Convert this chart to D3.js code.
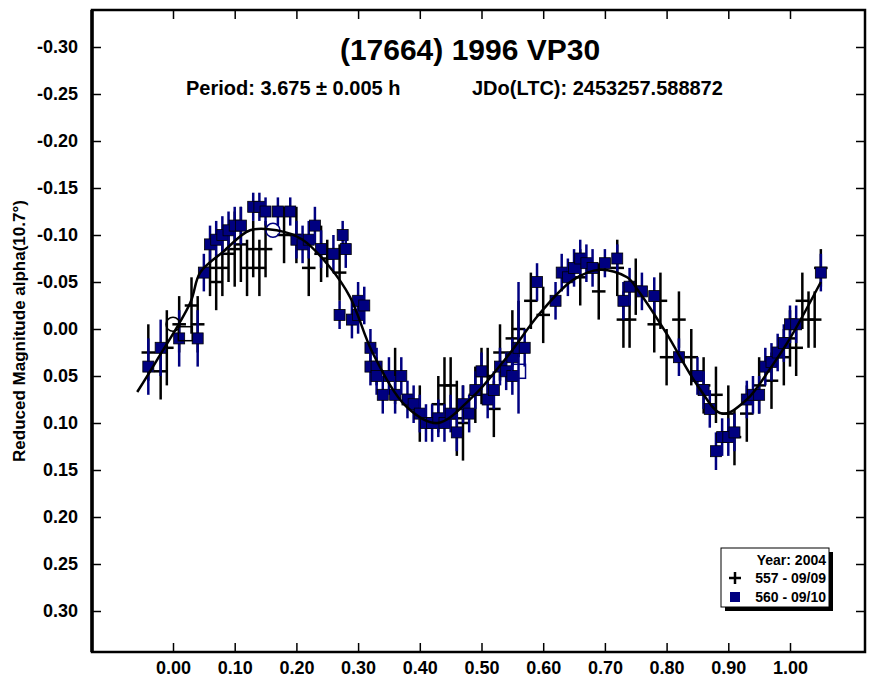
<!DOCTYPE html><html><head><meta charset="utf-8"><script src="https://cdn.jsdelivr.net/npm/d3@7"></script>
<style>body{margin:0;background:#fff}text{font-family:"Liberation Sans",Arial,sans-serif;font-weight:bold}</style></head><body>
<svg id="c" width="880" height="680"></svg>
<script>
const xTicks=[0,0.1,0.2,0.3,0.4,0.5,0.6,0.7,0.8,0.9,1.0];
const yTicks=[-0.30,-0.25,-0.20,-0.15,-0.10,-0.05,0,0.05,0.10,0.15,0.20,0.25,0.30];
const bluePhase=[-0.04,-0.02,0.01,0.04,0.05,0.06,0.07,0.08,0.09,0.10,0.11,0.13,0.14,0.15,0.17,0.19,0.20,0.21,0.22,0.23,0.24,0.26,0.27,0.275,0.28,0.29,0.30,0.30,0.31,0.32,0.32,0.33,0.33,0.34,0.35,0.36,0.37,0.38,0.39,0.40,0.41,0.42,0.43,0.44,0.45,0.46,0.47,0.48,0.49,0.50,0.51,0.52,0.53,0.54,0.55,0.55,0.56,0.57,0.59,0.62,0.63,0.64,0.65,0.66,0.67,0.68,0.70,0.72,0.73,0.74,0.76,0.78,0.82,0.85,0.86,0.87,0.88,0.89,0.90,0.91,0.93,0.94,0.95,0.96,0.97,0.98,0.99,1.00,1.01,1.05];
const blueMag=[0.04,0.02,0.01,0.01,-0.06,-0.09,-0.095,-0.10,-0.105,-0.11,-0.11,-0.13,-0.13,-0.125,-0.125,-0.125,-0.095,-0.09,-0.095,-0.11,-0.085,-0.08,-0.015,-0.10,-0.085,-0.01,-0.015,-0.03,-0.025,0.02,0.04,0.04,0.05,0.07,0.05,0.07,0.05,0.075,0.08,0.09,0.10,0.10,0.095,0.10,0.09,0.11,0.08,0.09,0.065,0.045,0.075,0.065,0.04,0.045,0.03,0.05,0.02,0.02,-0.05,-0.03,-0.06,-0.055,-0.065,-0.075,-0.07,-0.065,-0.07,-0.075,-0.03,-0.045,-0.04,-0.035,0.03,0.05,0.065,0.085,0.13,0.115,0.115,0.11,0.075,0.07,0.07,0.04,0.035,0.025,0.015,-0.005,-0.005,-0.06];
const blueErr=[0.03,0.03,0.03,0.03,0.02,0.02,0.02,0.02,0.02,0.02,0.02,0.015,0.015,0.015,0.015,0.015,0.02,0.02,0.02,0.02,0.02,0.02,0.015,0.015,0.02,0.02,0.02,0.02,0.02,0.02,0.02,0.02,0.02,0.02,0.02,0.02,0.02,0.02,0.02,0.02,0.02,0.02,0.02,0.02,0.02,0.02,0.02,0.02,0.02,0.02,0.02,0.02,0.02,0.02,0.02,0.02,0.07,0.02,0.02,0.02,0.02,0.02,0.02,0.02,0.02,0.02,0.015,0.015,0.02,0.02,0.02,0.02,0.02,0.02,0.02,0.02,0.02,0.02,0.02,0.02,0.02,0.02,0.02,0.02,0.02,0.02,0.02,0.02,0.02,0.02];
const blackPhase=[-0.04,-0.02,-0.01,0.01,0.03,0.04,0.06,0.07,0.08,0.09,0.10,0.11,0.12,0.13,0.14,0.15,0.18,0.20,0.22,0.24,0.25,0.27,0.36,0.40,0.43,0.44,0.45,0.46,0.47,0.49,0.50,0.51,0.52,0.53,0.55,0.56,0.58,0.60,0.66,0.69,0.72,0.73,0.74,0.75,0.78,0.79,0.80,0.82,0.84,0.86,0.88,0.90,0.91,0.93,0.95,0.97,0.99,1.00,1.01,1.02,1.03,1.04,1.05];
const blackMag=[0.025,0.045,0.02,-0.005,-0.025,-0.005,-0.065,-0.05,-0.065,-0.08,-0.085,-0.09,-0.065,-0.085,-0.065,-0.085,-0.10,-0.10,-0.065,-0.08,-0.075,-0.06,0.05,0.09,0.08,0.06,0.06,0.095,0.10,0.07,0.05,0.05,0.085,0.025,0.01,0.0,-0.03,-0.015,-0.055,-0.04,-0.065,-0.01,-0.01,-0.045,-0.005,-0.03,0.03,-0.01,0.03,0.06,0.07,0.09,0.115,0.09,0.06,0.055,0.03,0.01,0.02,-0.03,-0.01,-0.01,-0.065];
const blackErr=[0.03,0.03,0.04,0.03,0.03,0.03,0.03,0.03,0.03,0.03,0.04,0.04,0.03,0.03,0.03,0.03,0.03,0.03,0.03,0.03,0.02,0.03,0.03,0.03,0.03,0.03,0.03,0.04,0.04,0.03,0.03,0.03,0.03,0.03,0.03,0.03,0.03,0.03,0.03,0.03,0.03,0.03,0.03,0.03,0.03,0.03,0.03,0.03,0.03,0.03,0.03,0.03,0.03,0.03,0.03,0.03,0.03,0.03,0.03,0.03,0.03,0.03,0.02];
const curvePhase=[-0.058,-0.026,0.028,0.044,0.081,0.125,0.168,0.21,0.254,0.287,0.324,0.379,0.428,0.486,0.541,0.595,0.648,0.692,0.736,0.757,0.80,0.85,0.89,0.93,0.97,1.00,1.05];
const curveMag=[0.067,0.033,-0.028,-0.06,-0.082,-0.105,-0.105,-0.095,-0.066,-0.034,0.026,0.083,0.10,0.072,0.03,-0.017,-0.052,-0.063,-0.055,-0.038,0.005,0.06,0.09,0.075,0.04,0.01,-0.05];
const legendLabels=["Year: 2004","557 - 09/09","560 - 09/10"];

const svg=d3.select("#c");
const L=92,R=865,T=10,B=652;
const x=d3.scaleLinear().domain([0,1]).range([173,790]);
const y=d3.scaleLinear().domain([-0.30,0.30]).range([47,611]);
const blue="#000080";
const fmt=d=>d3.format(".2f")(d).replace("−","-");
const styleText=g=>g.selectAll("text").attr("font-size",18).attr("font-family","Liberation Sans, Arial").attr("font-weight","bold");
svg.append("g").attr("transform",`translate(0,${B})`).call(d3.axisBottom(x).tickValues(xTicks).tickSize(-9).tickFormat(fmt).tickPadding(9))
 .call(g=>{g.select(".domain").remove();g.selectAll("line").attr("stroke-width",1.5);styleText(g);});
svg.append("g").attr("transform",`translate(${L},0)`).call(d3.axisLeft(y).tickValues(yTicks).tickSize(-9).tickFormat(fmt).tickPadding(14))
 .call(g=>{g.select(".domain").remove();g.selectAll("line").attr("stroke-width",1.5);styleText(g);});
svg.append("g").attr("transform",`translate(${R},0)`).call(d3.axisRight(y).tickValues(yTicks).tickSize(-9).tickFormat(""))
 .call(g=>{g.select(".domain").remove();g.selectAll("line").attr("stroke-width",1.5);});
svg.append("g").attr("transform",`translate(0,${T})`).call(d3.axisTop(x).tickValues(xTicks).tickSize(-9).tickFormat(""))
 .call(g=>{g.select(".domain").remove();g.selectAll("line").attr("stroke-width",1.5);});
svg.append("rect").attr("x",L).attr("y",T).attr("width",R-L).attr("height",B-T).attr("fill","none").attr("stroke","#000").attr("stroke-width",2.5);
svg.append("line").attr("x1",L).attr("x2",L).attr("y1",T).attr("y2",B).attr("stroke","#000").attr("stroke-width",3.5);

const bk=svg.append("g").attr("stroke","#000").attr("stroke-width",2.5);
blackPhase.forEach((p,i)=>{
 bk.append("line").attr("x1",x(p)).attr("x2",x(p)).attr("y1",y(blackMag[i]-blackErr[i])).attr("y2",y(blackMag[i]+blackErr[i]));
 bk.append("line").attr("x1",x(p-0.011)).attr("x2",x(p+0.011)).attr("y1",y(blackMag[i])).attr("y2",y(blackMag[i]));
});
const bl=svg.append("g");
bluePhase.forEach((p,i)=>{
 bl.append("line").attr("x1",x(p)).attr("x2",x(p)).attr("y1",y(blueMag[i]-blueErr[i])).attr("y2",y(blueMag[i]+blueErr[i])).attr("stroke",blue).attr("stroke-width",2.5);
 bl.append("rect").attr("x",x(p)-5.5).attr("y",y(blueMag[i])-5.5).attr("width",11).attr("height",11).attr("fill",blue).attr("stroke","#000").attr("stroke-width",0.8);
});
svg.append("circle").attr("cx",x(0)).attr("cy",y(-0.005)).attr("r",7).attr("fill","none").attr("stroke","#000").attr("stroke-width",1.5);
svg.append("circle").attr("cx",x(0.162)).attr("cy",y(-0.105)).attr("r",7).attr("fill","none").attr("stroke",blue).attr("stroke-width",1.5);
svg.append("rect").attr("x",x(0.02)-7).attr("y",y(0.005)-7).attr("width",14).attr("height",14).attr("fill","none").attr("stroke","#000").attr("stroke-width",1.5);
svg.append("rect").attr("x",x(0.56)-7).attr("y",y(0.045)-7).attr("width",14).attr("height",14).attr("fill","none").attr("stroke",blue).attr("stroke-width",1.5);
svg.append("path").datum(curvePhase.map((p,i)=>[p,curveMag[i]])).attr("d",d3.line().x(d=>x(d[0])).y(d=>y(d[1])).curve(d3.curveCatmullRom)).attr("fill","none").attr("stroke","#000").attr("stroke-width",2.5);

svg.append("text").attr("x",470).attr("y",60).attr("text-anchor","middle").attr("font-size",30).text("(17664) 1996 VP30");
svg.append("text").attr("x",186).attr("y",95).attr("font-size",20).text("Period: 3.675 ± 0.005 h");
svg.append("text").attr("x",472).attr("y",95).attr("font-size",20).text("JDo(LTC): 2453257.588872");
svg.append("text").attr("transform","translate(25,331) rotate(-90)").attr("text-anchor","middle").attr("font-size",17).text("Reduced Magnitude alpha(10.7°)");

const lg=svg.append("g");
lg.append("rect").attr("x",725).attr("y",552).attr("width",108).attr("height",59).attr("fill","#000");
lg.append("rect").attr("x",721).attr("y",548).attr("width",108).attr("height",59).attr("fill","#fff").attr("stroke","#000").attr("stroke-width",1);
lg.append("text").attr("x",826).attr("y",565).attr("text-anchor","end").attr("font-size",14).text(legendLabels[0]);
lg.append("text").attr("x",826).attr("y",583).attr("text-anchor","end").attr("font-size",14).text(legendLabels[1]);
lg.append("text").attr("x",826).attr("y",602).attr("text-anchor","end").attr("font-size",14).text(legendLabels[2]);
lg.append("line").attr("x1",729).attr("x2",741).attr("y1",578).attr("y2",578).attr("stroke","#000").attr("stroke-width",2.5);
lg.append("line").attr("x1",735).attr("x2",735).attr("y1",572).attr("y2",584).attr("stroke","#000").attr("stroke-width",2.5);
lg.append("rect").attr("x",730).attr("y",592).attr("width",10).attr("height",10).attr("fill",blue);
</script></body></html>
